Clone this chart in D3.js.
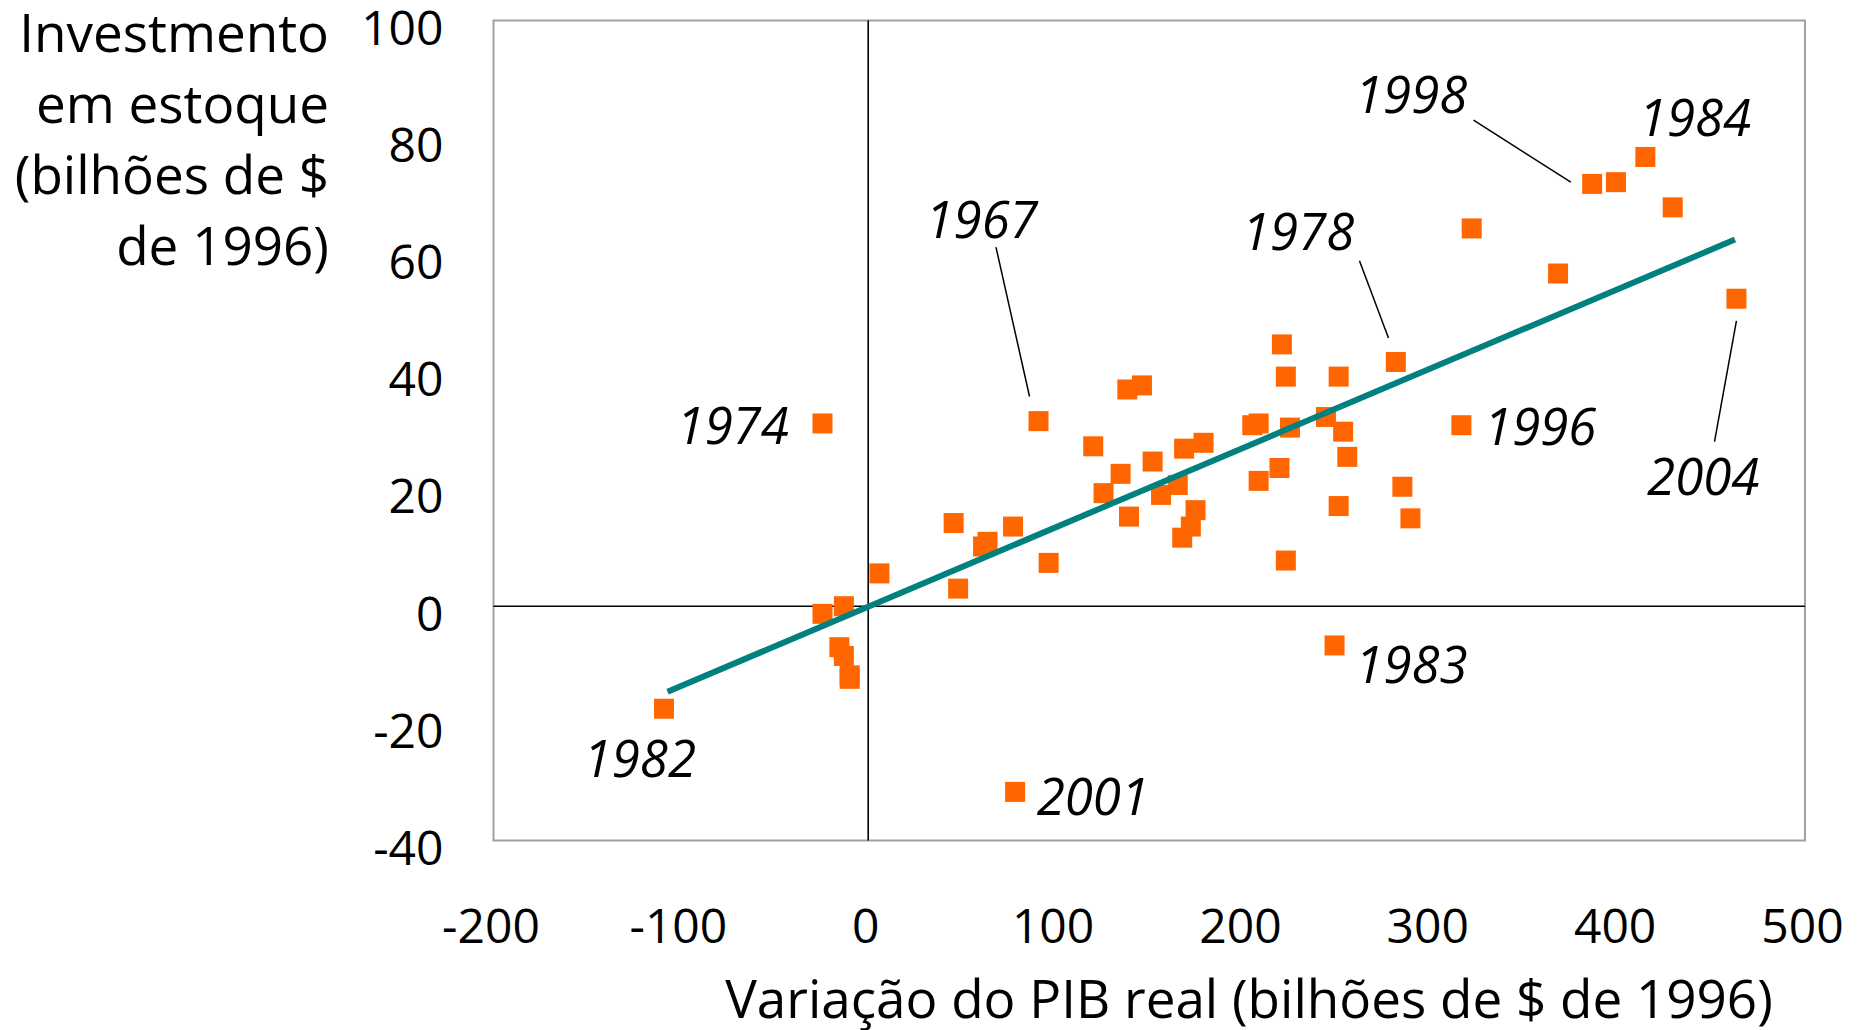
<!DOCTYPE html>
<meta charset="utf-8">
<style>
body { margin: 0; background: #fff; }
svg text { font-family: "Open Sans", sans-serif; fill: #000; }
.tick text { font-size: 48px; }
.axisTitle { font-size: 53px; }
.yearLabel { font-size: 51px; font-style: italic; }
.dot { fill: #ff6600; }
.trend { stroke: #00807f; stroke-width: 6; fill: none; }
.leader { stroke: #000; stroke-width: 1.5; }
.zero { stroke: #000; stroke-width: 1.6; }
.frame { fill: none; stroke: #a0a0a0; stroke-width: 2; }
</style>
<body>
<script src="https://d3js.org/d3.v7.min.js"></script>
<script>

// variação do PIB real (x) e investimento em estoque (y), bilhões de $ de 1996
var gdpChange = [-109, -24.4, -24.4, -13, -15.4, -13, -9.9, -9.9, 6, 45.6,
  48, 61.3, 63.7, 77.3, 96.3, 90.9, 120.1, 134.7, 125.6, 139.2,
  138.3, 146.1, 151.8, 156.3, 168.6, 179, 165.2, 174.7, 172.2, 167.6,
  205, 208.4, 225.1, 208.4, 219.5, 244.3, 253.5, 255.7, 251.1, 285.1,
  289.4, 222.9, 248.9, 316.6, 78.4, 281.6, 220.8, 222.9, 251.1, 322.1,
  368.2, 386.4, 399.1, 414.8, 429.4, 463.4];
var inventory = [-17.5, 31.2, -1.3, 0, -7, -8.5, -11.8, -12.4, 5.6, 14.2,
  3, 10.2, 11, 13.6, 7.4, 31.6, 27.3, 22.6, 19.3, 15.3,
  37, 37.7, 24.7, 19, 26.9, 27.9, 20.7, 16.4, 13.6, 11.7,
  30.9, 31.2, 30.5, 21.4, 23.6, 32.3, 29.8, 25.5, 17.1, 20.4,
  15, 7.8, -6.7, 30.9, -31.7, 41.7, 44.7, 39.2, 39.2, 64.5,
  56.8, 72.1, 72.4, 76.7, 68.1, 52.5];

// linha de tendência (extremos)
var trendX = [-107.1, 462.6];
var trendY = [-14.6, 62.6];

var xTicks = [-200, -100, 0, 100, 200, 300, 400, 500];
var yTicks = [-40, -20, 0, 20, 40, 60, 80, 100];

var yTitleLines = ["Investmento", "em estoque", "(bilhões de $", "de 1996)"];
var xTitle = "Variação do PIB real (bilhões de $ de 1996)";

// anos destacados: texto (tx, ty) e linha guia opcional, em unidades dos dados
var annotations = [
  {year: "1998", tx: 259.8, ty: 84.2, line: [323.1, 83.0, 375.0, 72.4]},
  {year: "1984", tx: 411.3, ty: 80.2},
  {year: "1978", tx: 199.5, ty: 60.9, line: [262.2, 59.0, 277.7, 45.8]},
  {year: "1967", tx: 30.6, ty: 62.9, line: [68.2, 61.3, 86.1, 35.8]},
  {year: "1974", tx: -102.3, ty: 27.7},
  {year: "1996", tx: 328.7, ty: 27.6},
  {year: "2004", tx: 415.7, ty: 19.0, line: [463.4, 48.7, 451.7, 28.1]},
  {year: "1983", tx: 260.0, ty: -13.1},
  {year: "1982", tx: -151.9, ty: -29.1},
  {year: "2001", tx: 89.9, ty: -35.6}
];

var W = 1863, H = 1030;
var plot = {left: 493.5, right: 1805, top: 20.5, bottom: 840.5};

var x = d3.scaleLinear().domain([-200, 500]).range([plot.left, plot.right]);
var y = d3.scaleLinear().domain([-40, 100]).range([plot.bottom, plot.top]);

var svg = d3.select("body").append("svg")
    .attr("width", W)
    .attr("height", H);

// frame
svg.append("rect")
    .attr("class", "frame")
    .attr("x", plot.left)
    .attr("y", plot.top)
    .attr("width", plot.right - plot.left)
    .attr("height", plot.bottom - plot.top);

// y axis labels
var yAxis = svg.append("g")
    .attr("transform", "translate(" + plot.left + ",0)")
    .call(d3.axisLeft(y).tickValues(yTicks).tickSize(0).tickPadding(50)
      .tickFormat(function(d) { return String(d); }));
yAxis.select(".domain").remove();
yAxis.selectAll("text").attr("dy", "0.35em").attr("y", 7);

// x axis labels
var xAxis = svg.append("g")
    .attr("transform", "translate(0," + plot.bottom + ")")
    .call(d3.axisBottom(x).tickValues(xTicks).tickSize(0)
      .tickFormat(function(d) { return String(d); }));
xAxis.select(".domain").remove();
xAxis.selectAll("text").attr("dy", null).attr("y", 102).attr("x", -3);

// zero lines
svg.append("line").attr("class", "zero")
    .attr("x1", plot.left).attr("x2", plot.right)
    .attr("y1", y(0)).attr("y2", y(0));
svg.append("line").attr("class", "zero")
    .attr("x1", x(0)).attr("x2", x(0))
    .attr("y1", plot.top).attr("y2", plot.bottom);

// points
var pts = d3.zip(gdpChange, inventory);
var s = 20;
svg.selectAll(".dot")
    .data(pts)
  .enter().append("rect")
    .attr("class", "dot")
    .attr("x", function(d) { return x(d[0]) - s / 2; })
    .attr("y", function(d) { return y(d[1]) - s / 2; })
    .attr("width", s)
    .attr("height", s);

// trend line
svg.append("path")
    .attr("class", "trend")
    .attr("d", d3.line()
      .x(function(d) { return x(d[0]); })
      .y(function(d) { return y(d[1]); })(d3.zip(trendX, trendY)));

// year labels + leader lines
svg.selectAll(".leader")
    .data(annotations.filter(function(a) { return a.line; }))
  .enter().append("line")
    .attr("class", "leader")
    .attr("x1", function(a) { return x(a.line[0]); })
    .attr("y1", function(a) { return y(a.line[1]); })
    .attr("x2", function(a) { return x(a.line[2]); })
    .attr("y2", function(a) { return y(a.line[3]); });

svg.selectAll(".yearLabel")
    .data(annotations)
  .enter().append("text")
    .attr("class", "yearLabel")
    .attr("x", function(a) { return x(a.tx); })
    .attr("y", function(a) { return y(a.ty); })
    .text(function(a) { return a.year; });

// axis titles
svg.append("text")
    .attr("class", "axisTitle")
    .attr("text-anchor", "end")
    .selectAll("tspan")
    .data(yTitleLines)
  .enter().append("tspan")
    .attr("x", 329)
    .attr("y", function(d, i) { return 52 + i * 71; })
    .text(function(d) { return d; });

svg.append("text")
    .attr("class", "axisTitle")
    .attr("text-anchor", "middle")
    .attr("x", 1249)
    .attr("y", 1018)
    .text(xTitle);

</script>
</body>
